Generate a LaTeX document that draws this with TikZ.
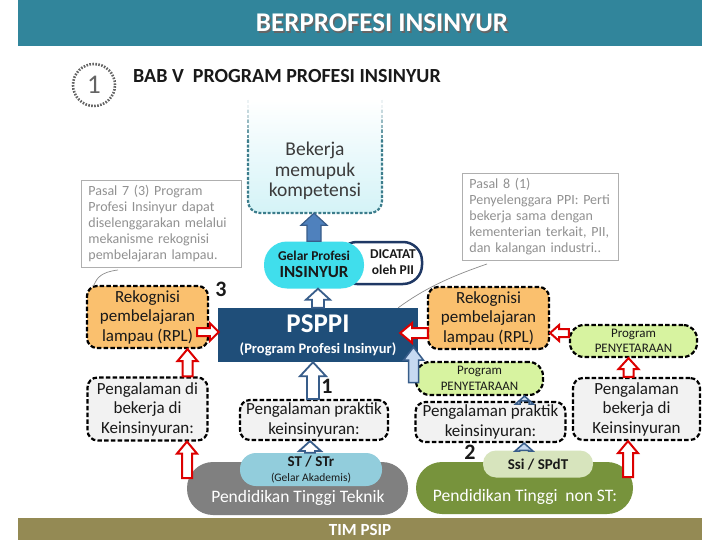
\documentclass[tikz,border=0pt]{standalone}
\usepackage{fontspec}
\setmainfont{Carlito}
\usetikzlibrary{calc}
\definecolor{hdr}{RGB}{49,133,155}
\definecolor{psppi}{RGB}{31,78,121}
\definecolor{orng}{RGB}{250,192,110}
\definecolor{lgreen}{RGB}{215,243,160}
\definecolor{lgray}{RGB}{242,242,242}
\definecolor{cyanE}{RGB}{64,222,236}
\definecolor{stblue}{RGB}{146,205,220}
\definecolor{tgray}{RGB}{128,128,128}
\definecolor{olivegr}{RGB}{119,147,60}
\definecolor{ssig}{RGB}{215,228,189}
\definecolor{bbar}{RGB}{148,138,84}
\definecolor{arrred}{RGB}{220,0,0}
\definecolor{arrblue}{RGB}{56,93,138}
\definecolor{midblue}{RGB}{79,129,189}
\definecolor{paleblue}{RGB}{198,217,241}
\definecolor{notegray}{RGB}{175,175,175}
\definecolor{notetext}{RGB}{145,145,145}
\definecolor{txt}{RGB}{25,25,25}
\definecolor{circgray}{RGB}{100,100,100}
\definecolor{tealdash}{RGB}{60,125,140}
\definecolor{bekbot}{RGB}{212,243,247}
\definecolor{dicborder}{RGB}{31,56,100}
% vertical block arrow: [style]{tail}{tip}{shaft half}{head half}{head length}
\newcommand\varrow[6][]{\path[#1] let \p1=#2, \p2=#3, \n1={sign(\y2-\y1)} in
 ({\x1-#4},\y1) -- ({\x1-#4},{\y2-(\n1)*#6}) -- ({\x1-#5},{\y2-(\n1)*#6}) -- (\x1,\y2)
 -- ({\x1+#5},{\y2-(\n1)*#6}) -- ({\x1+#4},{\y2-(\n1)*#6}) -- ({\x1+#4},\y1) -- cycle;}
% horizontal block arrow
\newcommand\harrow[6][]{\path[#1] let \p1=#2, \p2=#3, \n1={sign(\x2-\x1)} in
 (\x1,{\y1-#4}) -- ({\x2-(\n1)*#6},{\y1-#4}) -- ({\x2-(\n1)*#6},{\y1-#5}) -- (\x2,\y1)
 -- ({\x2-(\n1)*#6},{\y1+#5}) -- ({\x2-(\n1)*#6},{\y1+#4}) -- (\x1,{\y1+#4}) -- cycle;}
\begin{document}
\begin{tikzpicture}[x=1pt,y=-1pt,
  dbox/.style={draw=black, line width=2.2pt, dash pattern=on 4.5pt off 2.2pt, rounded corners=10pt, inner sep=0pt},
  orangebox/.style={dbox, fill=orng},
  graybox/.style={dbox, fill=lgray},
  greenbox/.style={dbox, fill=lgreen, rounded corners=14pt},
  boxtext/.style={align=center, text=txt, font=\fontsize{17}{19.5}\selectfont},
  progtext/.style={align=center, text=txt, font=\fontsize{13}{15.5}\selectfont},
  numtext/.style={text=txt, font=\bfseries\fontsize{22}{24}\selectfont},
  note/.style={draw=notegray, line width=0.8pt, align=left, text=notetext, inner xsep=7pt, inner ysep=5pt, font=\fontsize{14}{16}\selectfont},
  redarr/.style={draw=arrred, fill=white, line width=2pt},
  bluehollow/.style={draw=arrblue, fill=white, line width=1.8pt},
  bluesolid/.style={draw=arrblue, fill=midblue, line width=1.2pt},
  bluelight/.style={draw=arrblue, fill=paleblue, line width=1.5pt},
  pill/.style={rounded corners=#1, inner sep=0pt},
  conn/.style={draw=notegray!80!black, line width=0.7pt}
]
\useasboundingbox (0,0) rectangle (720,540);
\fill[white] (0,0) rectangle (720,540);

% header
\node[fill=hdr, minimum width=684pt, minimum height=46pt, inner sep=0pt] (header) at (360,23) {};
\node[text=black!60, font=\bfseries\fontsize{27}{29}\selectfont] (titleshadow) at (383.5,24.5) {BERPROFESI INSINYUR};
\node[text=white, font=\bfseries\fontsize{27}{29}\selectfont] (title) at (382,23) {BERPROFESI INSINYUR};

% circled 1 and chapter title
\node[circle, draw=circgray, line width=2.6pt, dash pattern=on 1.6pt off 1.4pt, minimum size=42pt, inner sep=0pt, text=circgray, font=\fontsize{27}{28}\selectfont] (circ) at (94,85) {1};
\node[anchor=west, text=txt, font=\bfseries\fontsize{20}{22}\selectfont, inner sep=0pt] (bab) at (133,76) {BAB V\ \ PROGRAM PROFESI INSINYUR};

% Bekerja box
\node[pill=12pt, top color=white, bottom color=bekbot, minimum width=134pt, minimum height=113pt] (bekerja) at (315,156.5) {};
\node[align=center, text=txt!85, font=\fontsize{19.5}{20.5}\selectfont] (bektext) at (315,171) {Bekerja\\memupuk\\kompetensi};
\draw[tealdash, line width=2.2pt, dash pattern=on 3pt off 1.6pt, rounded corners=12pt] (248,140) |- (315,213) -| (382,140);
\foreach \a/\b/\c in {100/110/10,110/120/30,120/130/55,130/140/80}{
  \draw[tealdash!\c!white, line width=2.2pt, dash pattern=on 3pt off 1.6pt] (248,\a) -- (248,\b);
  \draw[tealdash!\c!white, line width=2.2pt, dash pattern=on 3pt off 1.6pt] (382,\a) -- (382,\b);
}

% DICATAT and Gelar
\node[pill=19pt, draw=dicborder, line width=2.5pt, fill=white, minimum width=84pt, minimum height=42pt] (dicatat) at (380,263) {};
\node[align=center, text=txt, font=\bfseries\fontsize{13.5}{16}\selectfont] (dictext) at (393,262) {DICATAT\\oleh PII};
\node[pill=23pt, fill=cyanE, minimum width=100pt, minimum height=47pt] (gelar) at (314,265) {};
\node[align=center, text=txt, font=\bfseries\fontsize{13.5}{16.5}\selectfont] (gelartext) at (314,264.5) {Gelar Profesi\\{\fontsize{17}{16}\selectfont INSINYUR}};

% PSPPI
\node[fill=psppi, minimum width=200pt, minimum height=54pt, inner sep=0pt] (psppi) at (318,335) {};
\node[text=white, font=\bfseries\fontsize{27}{28}\selectfont, inner sep=0pt] (psppit) at (318,324) {PSPPI};
\node[text=white, font=\bfseries\fontsize{14.5}{16}\selectfont, inner sep=0pt] (psppis) at (318,349) {(Program Profesi Insinyur)};

% notes
\node[note, text width=146pt, anchor=north west] (p7) at (81,180) {Pasal 7 (3) Program\\Profesi Insinyur dapat\\diselenggarakan melalui\\mekanisme rekognisi\\pembelajaran lampau.};
\node[note, text width=142pt, anchor=north west] (p8) at (462,173) {Pasal 8 (1)\\Penyelenggara PPI: Perti\\bekerja sama dengan\\kementerian terkait, PII,\\dan kalangan industri..};

% left column
\node[orangebox, minimum width=121pt, minimum height=62pt] (rplL) at (147.5,317) {};
\node[boxtext] (rplLt) at (147.5,317) {Rekognisi\\pembelajaran\\lampau (RPL)};
\node[graybox, minimum width=120pt, minimum height=63pt] (expL) at (147.5,409) {};
\node[boxtext] (expLt) at (147.5,409) {Pengalaman di\\bekerja di\\Keinsinyuran:};
\node[numtext] (three) at (221,289) {3};

% centre column
\node[graybox, minimum width=148pt, minimum height=40pt] (pr1) at (314,420) {};
\node[boxtext] (pr1t) at (314,420) {Pengalaman praktik\\keinsinyuran:};
\node[numtext] (one) at (327,386) {1};
\node[pill=26pt, fill=tgray, minimum width=221pt, minimum height=53pt] (tek) at (297.5,488.5) {};
\node[text=white, font=\fontsize{17.5}{19}\selectfont] (tekt) at (298,498) {Pendidikan Tinggi Teknik};
\node[pill=16pt, fill=stblue, minimum width=142pt, minimum height=33pt] (st) at (311,469.5) {};
\node[align=center, text=txt, font=\bfseries\fontsize{15}{15}\selectfont] (stt) at (311,469.5) {ST / STr\\{\mdseries\fontsize{11.5}{12}\selectfont (Gelar Akademis)}};

% right columns
\node[orangebox, minimum width=121pt, minimum height=62pt] (rplR) at (488.5,318) {};
\node[boxtext] (rplRt) at (488.5,318) {Rekognisi\\pembelajaran\\lampau (RPL)};
\node[greenbox, minimum width=127pt, minimum height=32pt] (progR) at (633.5,341) {};
\node[progtext] (progRt) at (633.5,341) {Program\\PENYETARAAN};
\node[graybox, minimum width=127pt, minimum height=62pt] (expR) at (636.5,409) {};
\node[boxtext] (expRt) at (636.5,409) {Pengalaman\\bekerja di\\Keinsinyuran};
\node[greenbox, minimum width=127pt, minimum height=33pt] (progC) at (479.5,378.5) {};
\node[progtext] (progCt) at (479.5,378.5) {Program\\PENYETARAAN};
\node[graybox, minimum width=150pt, minimum height=40pt] (pr2) at (490.5,422) {};
\node[boxtext] (pr2t) at (490.5,422) {Pengalaman praktik\\keinsinyuran:};
\node[numtext] (two) at (470,452) {2};
\node[pill=26pt, fill=olivegr, minimum width=217pt, minimum height=52pt] (nonst) at (524.5,488) {};
\node[text=white, font=\fontsize{17.5}{19}\selectfont] (nonstt) at (525,497) {Pendidikan Tinggi\ \ non ST:};
\node[pill=13pt, fill=ssig, minimum width=110pt, minimum height=27pt] (ssi) at (538,464) {};
\node[text=txt, font=\bfseries\fontsize{15}{16}\selectfont] (ssit) at (538,464.5) {Ssi / SPdT};

% bottom bar
\node[fill=bbar, minimum width=684pt, minimum height=22pt, inner sep=0pt] (footer) at (360,529) {};
\node[text=white, font=\bfseries\fontsize{17}{18}\selectfont] (foott) at (360,530) {TIM PSIP};

% free ends
\coordinate (bl) at (187,478);
\coordinate (br) at (628,477);
\coordinate (c7) at (118,270);
\coordinate (c8) at (487,264);

% note connectors
\draw[conn] (c7) .. controls (101,272) and (97,278) .. ([xshift=8pt]rplL.north west);
\draw[conn] (c8) .. controls (452,276) and (425,288) .. ([xshift=-20pt]psppi.north east);

% arrows
\varrow[bluesolid]{(gelar.north)}{(bekerja.south)}{7pt}{13pt}{12pt}
\varrow[bluehollow]{(psppi.north)}{(gelar.south)}{6pt}{12pt}{11pt}
\varrow[bluehollow]{([xshift=-1pt]pr1.north)}{(psppi.south)}{6pt}{13pt}{14pt}
\varrow[bluehollow]{([xshift=-1pt]st.north)}{(pr1.south)}{5pt}{11pt}{10pt}
\varrow[bluelight]{([xshift=-66pt,yshift=-4pt]progC.center)}{([yshift=15pt]psppi.south)}{5pt}{10pt}{13pt}
\varrow[bluelight]{([xshift=34pt]pr2.north)}{(progC.south)}{4.5pt}{9pt}{8pt}
\varrow[bluelight]{([xshift=-14pt]ssi.north)}{(pr2.south)}{4.5pt}{9pt}{8pt}
\harrow[redarr]{([xshift=-12pt,yshift=-15pt]rplL.east)}{([xshift=1pt]psppi.west)}{4pt}{9pt}{9pt}
\varrow[redarr]{([xshift=40pt]expL.north)}{(rplL.south)}{5pt}{10pt}{12pt}
\varrow[redarr]{(bl)}{(expL.south)}{5pt}{10pt}{12pt}
\harrow[redarr]{([xshift=1pt,yshift=-15pt]rplR.west)}{([xshift=-18pt]psppi.east)}{5pt}{10pt}{12pt}
\harrow[redarr]{([yshift=8pt]progR.west)}{(rplR.east)}{4pt}{8pt}{9pt}
\varrow[redarr]{([xshift=-8pt]expR.north)}{(progR.south)}{5pt}{10pt}{11pt}
\varrow[redarr]{(br)}{(expR.south)}{5pt}{10pt}{12pt}
\end{tikzpicture}
\end{document}
